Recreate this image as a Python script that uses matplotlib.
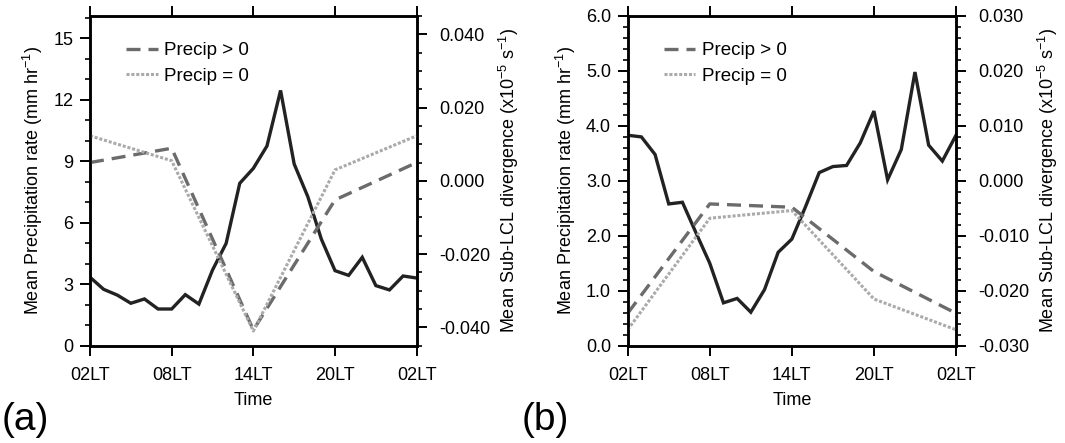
import matplotlib
matplotlib.use("Agg")
import matplotlib.pyplot as plt
from matplotlib.ticker import MultipleLocator, FixedLocator

plt.rcParams['font.family'] = ['Liberation Sans', 'DejaVu Sans']
plt.rcParams['mathtext.fontset'] = 'custom'
plt.rcParams['mathtext.rm'] = 'Liberation Sans'
plt.rcParams['mathtext.it'] = 'Liberation Sans:italic'
plt.rcParams['mathtext.bf'] = 'Liberation Sans:bold'
plt.rcParams['axes.unicode_minus'] = False

# ---- data ----
hours = list(range(25))
hours6 = [0, 6, 12, 18, 24]
xtick_labels = ["02LT", "08LT", "14LT", "20LT", "02LT"]

precip_a = [3.34, 2.75, 2.47, 2.07, 2.28, 1.79, 1.79, 2.49, 2.03, 3.69, 4.99, 7.92,
            8.65, 9.74, 12.45, 8.86, 7.27, 5.19, 3.66, 3.43, 4.31, 2.93, 2.72, 3.40, 3.30]
div_pos_a = [0.0050, 0.0089, -0.0407, -0.0052, 0.0050]
div_zero_a = [0.0123, 0.0055, -0.0410, 0.0030, 0.0123]

precip_b = [3.83, 3.80, 3.48, 2.58, 2.61, 2.05, 1.50, 0.78, 0.86, 0.61, 1.02, 1.70,
            1.94, 2.53, 3.15, 3.26, 3.28, 3.69, 4.27, 3.02, 3.57, 4.98, 3.65, 3.36, 3.83]
div_pos_b = [-0.0241, -0.0042, -0.0048, -0.0165, -0.0241]
div_zero_b = [-0.0271, -0.0068, -0.0054, -0.0215, -0.0271]

legend_labels = ["Precip > 0", "Precip = 0"]

W, H = 1065, 443
fig = plt.figure(figsize=(W / 100, H / 100), dpi=100)

C_SOLID = "#222222"
C_DASH = "#6b6b6b"
C_DOT = "#aaaaaa"
FS = 13


def style_axis(ax, pad=5):
    for s in ax.spines.values():
        s.set_linewidth(1.8)
    ax.tick_params(which='major', direction='out', length=7, width=1.4, labelsize=FS, pad=pad)
    ax.tick_params(which='minor', direction='out', length=3.5, width=1.2)


def panel(rect, precip, dpos, dzero, ylim, ymaj, ymin, yfmt, rlim, rmaj, rmin, rfmt, letter, letter_x):
    ax = fig.add_axes(rect)
    ax.plot(hours, precip, color=C_SOLID, lw=2.4, solid_joinstyle='miter', zorder=3)
    ax.set_xlim(0, 24)
    ax.set_ylim(*ylim)
    ax.yaxis.set_major_locator(MultipleLocator(ymaj))
    ax.yaxis.set_minor_locator(MultipleLocator(ymin))
    ax.yaxis.set_major_formatter(yfmt)
    ax.xaxis.set_major_locator(FixedLocator(hours6))
    ax.set_xticklabels(xtick_labels)
    ax.tick_params(axis='x', which='both', top=True)
    style_axis(ax)
    ax.tick_params(axis='x', which='major', pad=8)
    ax.set_ylabel("Mean Precipitation rate (mm hr$^{-1}$)", fontsize=FS, labelpad=6)
    ax.set_xlabel("Time", fontsize=FS, labelpad=6)

    ax2 = ax.twinx()
    l1, = ax2.plot(hours6, dpos, color=C_DASH, lw=2.4, linestyle=(0, (4.2, 2.4)))
    l2, = ax2.plot(hours6, dzero, color=C_DOT, lw=2.2, linestyle=(0, (1.0, 0.6)))
    ax2.set_ylim(*rlim)
    ax2.yaxis.set_major_locator(MultipleLocator(rmaj))
    ax2.yaxis.set_minor_locator(MultipleLocator(rmin))
    ax2.yaxis.set_major_formatter(rfmt)
    style_axis(ax2, pad=9)
    ax2.set_ylabel("Mean Sub-LCL divergence (x10$^{-5}$ s$^{-1}$)", fontsize=FS, labelpad=5)
    ax2.legend([l1, l2], legend_labels, loc='upper left', bbox_to_anchor=(0.075, 0.955),
               frameon=False, fontsize=FS + 0.5, handlelength=1.7, handletextpad=0.35,
               labelspacing=0.45, borderaxespad=0.2)
    fig.text(letter_x, 0.012, letter, fontsize=28, ha='left', va='bottom')
    return ax, ax2


ax_left = 90 / W
ax_w = (416.7 - 90) / W
bottom = (H - 345.7) / H
height = (345.7 - 16) / H

panel([ax_left, bottom, ax_w, height], precip_a, div_pos_a, div_zero_a,
      (0, 16.08), 3, 1, "{x:.0f}", (-0.045, 0.045), 0.02, 0.005, "{x:.3f}", "(a)", 2 / W)

panel([627.7 / W, bottom, (956 - 627.7) / W, height], precip_b, div_pos_b, div_zero_b,
      (0, 6.0), 1, 0.2, "{x:.1f}", (-0.03, 0.03), 0.01, 0.002, "{x:.3f}", "(b)", 522 / W)

fig.savefig("out.png", dpi=100)
